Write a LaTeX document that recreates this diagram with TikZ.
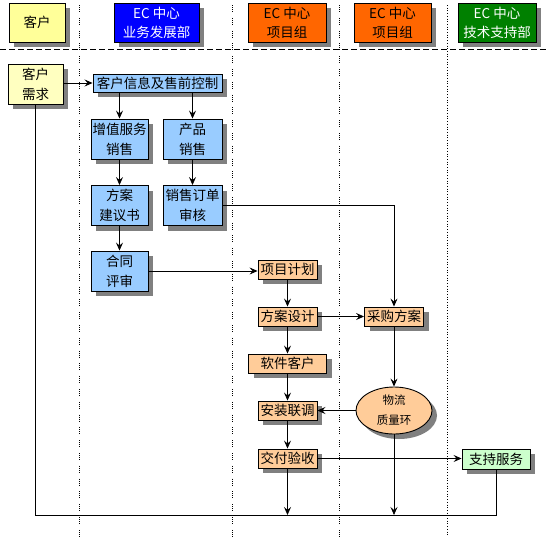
\documentclass[tikz,border=0pt]{standalone}
\usepackage{fontspec}
\setmainfont{Noto Sans CJK SC}
\usetikzlibrary{arrows.meta,shapes.geometric,shadows}
\definecolor{hdryellow}{HTML}{FFFF99}
\definecolor{hdrblue}{HTML}{0000FF}
\definecolor{hdrorange}{HTML}{FF6600}
\definecolor{hdrgreen}{HTML}{008000}
\definecolor{needyellow}{HTML}{FFFFC0}
\definecolor{bizblue}{HTML}{99CCFF}
\definecolor{prjorange}{HTML}{FFCC99}
\definecolor{techgreen}{HTML}{CCFFCC}
\definecolor{shade}{HTML}{808080}
\tikzset{
  box/.style={draw, line width=0.9pt, inner sep=0pt, align=center,
    font=\fontsize{13.5}{20}\selectfont,
    drop shadow={shadow xshift=5pt, shadow yshift=-5pt, fill=shade, opacity=1}},
  hdr/.style={box, minimum width=#1, minimum height=39pt, font=\fontsize{13.5}{19}\selectfont},
  biz/.style={box, fill=bizblue, minimum width=57pt, minimum height=40pt},
  prj/.style={box, fill=prjorange, minimum width=59pt, minimum height=19pt},
  flow/.style={line width=0.8pt, -{Stealth[length=8pt,width=7pt,inset=3pt]}},
  plain/.style={line width=0.8pt},
  lane/.style={line width=0.7pt, dash pattern=on 0.8pt off 1.2pt on 0.8pt off 1.2pt on 0.8pt off 1.2pt on 0.8pt off 6pt},
}

\begin{document}
\begin{tikzpicture}[x=1pt,y=-1pt]
	%%%%% START %%%%%
	\def\xbiz{119.5}
	\def\xsale{192.5}
	\def\xprj{287.5}
	\def\xbuy{394}
	\def\yhdr{22.5}
	\def\ybase{515}
	
	\useasboundingbox[fill=white] (0,0) rectangle (549,536);
	
	% lanes
	\foreach \xd in {79,232,339}
		\draw[lane] (\xd,5) -- (\xd,536);
	\draw[line width=0.7pt, dotted] (447,5) -- (447,536);
	\draw[line width=0.8pt, dash pattern=on 6pt off 3pt] (0,49) -- (549,49);
	
	% headers
	\node[hdr=56pt, fill=hdryellow] (hcust) at (37,\yhdr) {客户};
	\node[hdr=85pt, fill=hdrblue, text=white] (hbiz) at (156.5,\yhdr) {EC 中心\\业务发展部};
	\node[hdr=78pt, fill=hdrorange] (hprja) at (287,\yhdr) {EC 中心\\项目组};
	\node[hdr=77pt, fill=hdrorange] (hprjb) at (392.5,\yhdr) {EC 中心\\项目组};
	\node[hdr=78pt, fill=hdrgreen, text=white] (htech) at (497,\yhdr) {EC 中心\\技术支持部};
	
	% business
	\node[box, fill=needyellow, minimum width=55pt, minimum height=40pt] (need) at (35.5,84) {客户\\需求};
	\node[biz, minimum width=129pt, minimum height=18pt] (info) at (157.5,83) {客户信息及售前控制};
	\node[biz] (vas) at (\xbiz,139) {增值服务\\销售};
	\node[biz, minimum width=59pt] (prod) at (\xsale,139) {产品\\销售};
	\node[biz] (prop) at (\xbiz,205.5) {方案\\建议书};
	\node[biz, minimum width=59pt] (order) at (\xsale,205.5) {销售订单\\审核};
	\node[biz] (review) at (\xbiz,271) {合同\\评审};
	
	% project
	\node[prj] (plan) at (\xprj,269.5) {项目计划};
	\node[prj] (design) at (\xprj,316.5) {方案设计};
	\node[prj] (purch) at (\xbuy,316.5) {采购方案};
	\node[prj, minimum width=78pt] (soft) at (\xprj,363.5) {软件客户};
	\node[prj] (install) at (\xprj,410.5) {安装联调};
	\node[prj] (deliver) at (\xprj,458.5) {交付验收};
	\node[box, ellipse, fill=prjorange, minimum width=76pt, minimum height=47pt,
		font=\fontsize{11.5}{20}\selectfont] (ring) at (\xbuy,410.5) {物流\\质量环};
	\node[box, fill=techgreen, minimum width=68pt, minimum height=20pt] (support) at (496,459) {支持服务};
	
	\coordinate (base) at (0,\ybase);
	
	% connectors
	\draw[flow] (need.east |- info.west) -- (info.west);
	\draw[flow] (info.south -| vas.north) -- (vas.north);
	\draw[flow] (info.south -| prod.north) -- (prod.north);
	\draw[flow] (vas) -- (prop);
	\draw[flow] (prop) -- (review);
	\draw[flow] (prod) -- (order);
	\draw[flow] (order.east) -| (purch.north);
	\draw[flow] (review.east) -- (review.east -| plan.west);
	\draw[flow] (plan) -- (design);
	\draw[flow] (design) -- (soft);
	\draw[flow] (soft) -- (install);
	\draw[flow] (design) -- (purch);
	\draw[flow] (purch) -- (ring);
	\draw[flow] (ring) -- (install);
	\draw[flow] (install) -- (deliver);
	\draw[flow] (deliver.east) -- (deliver.east -| support.west);
	\draw[flow] (deliver.south) -- (deliver.south |- base);
	\draw[flow] (ring.south) -- (ring.south |- base);
	\draw[plain] (need.south) -- (need.south |- base) -| (support.south);
	%%%%% END %%%%%
\end{tikzpicture}
\end{document}
